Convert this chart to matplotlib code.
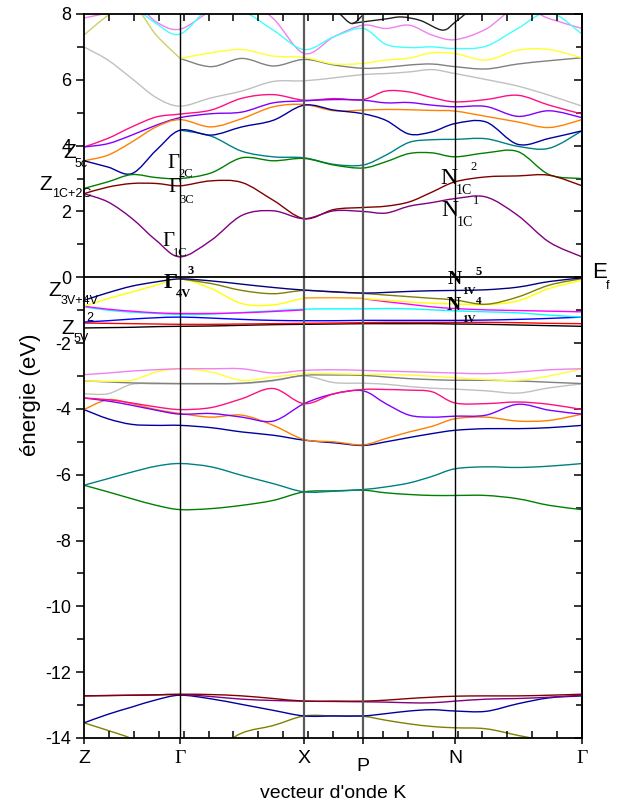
import numpy as np
import matplotlib
matplotlib.use("Agg")
import matplotlib.pyplot as plt
from matplotlib.ticker import MultipleLocator
from matplotlib.path import Path
from matplotlib.patches import PathPatch

plt.rcParams['font.family'] = ['Liberation Sans', 'DejaVu Sans']
plt.rcParams['axes.unicode_minus'] = False

nan = np.nan

# k-path (fraction of total path length) and high-symmetry points
k = [0.0, 0.048, 0.096, 0.145, 0.193, 0.255, 0.317, 0.380, 0.442, 0.502,
     0.560, 0.606, 0.653, 0.699, 0.745, 0.807, 0.871, 0.934, 1.0]
k_sym = [0.0, 0.193, 0.442, 0.560, 0.745, 1.0]
sym_labels = ['Z', 'Γ', 'X', 'P', 'N', 'Γ']

# conduction bands (eV)
c_purple = [2.54, 2.29, 1.79, 1.12, 0.62, 1.12, 1.88, 2.02, 1.78, 2.02, 2.00, 1.95, 2.16, 2.27, 2.39, 2.44, 1.88, 1.07, 0.62]
c_maroon = [2.54, 2.74, 2.85, 2.85, 2.78, 2.93, 2.88, 2.34, 1.78, 2.06, 2.12, 2.16, 2.29, 2.59, 2.90, 3.05, 3.08, 3.10, 2.78]
c_green = [2.70, 2.90, 3.12, 3.03, 3.00, 3.17, 3.63, 3.54, 3.61, 3.41, 3.32, 3.51, 3.76, 3.78, 3.66, 3.78, 3.82, 3.12, 3.00]
c_blue = [3.54, 3.35, 3.15, 3.86, 4.47, 4.32, 4.57, 4.77, 5.23, 5.08, 4.97, 4.77, 4.35, 4.42, 4.67, 4.72, 4.04, 4.22, 4.45]
c_teal = [nan, nan, nan, nan, 4.47, 4.29, 3.83, 3.66, 3.63, 3.43, 3.41, 3.71, 4.10, 4.18, 4.19, 4.21, 3.98, 3.92, 4.45]
c_orange = [3.54, 3.71, 4.11, 4.57, 4.79, 4.57, 4.82, 5.18, 5.25, 5.06, 5.08, 5.10, 5.09, 5.07, 5.05, 4.89, 4.72, 4.55, 4.79]
c_violet = [3.96, 4.06, 4.32, 4.62, 4.85, 4.97, 5.02, 5.30, 5.36, 5.40, 5.38, 5.30, 5.31, 5.23, 5.18, 5.19, 4.89, 5.06, 4.85]
c_pink = [3.96, 4.22, 4.57, 4.87, 4.96, 5.08, 5.44, 5.55, 5.38, 5.43, 5.40, 5.66, 5.63, 5.46, 5.33, 5.40, 5.53, 5.23, 4.96]
c_lgray = [7.00, 6.60, 6.04, 5.46, 5.20, 5.45, 5.66, 5.95, 5.97, 6.06, 6.16, 6.19, 6.24, 6.31, 6.19, 6.01, 5.81, 5.53, 5.20]
c_khaki = [7.36, 7.95, 8.30, 7.36, 6.65, nan, nan, nan, nan, nan, nan, nan, nan, nan, nan, nan, nan, nan, nan]
c_yellow = [nan, nan, nan, nan, 6.65, 6.82, 6.92, 6.72, 6.68, 6.48, 6.50, 6.60, 6.66, 6.82, 6.80, 6.60, 6.90, 6.92, 6.67]
c_dgray = [nan, nan, nan, nan, 6.65, 6.40, 6.65, 6.42, 6.62, 6.45, 6.35, 6.38, 6.45, 6.48, 6.40, 6.33, 6.48, 6.58, 6.67]
c_cyan = [nan, nan, 8.30, 7.71, 7.39, 8.20, 8.10, 7.51, 6.92, 7.31, 7.56, 7.08, 6.98, 7.00, 6.95, 7.02, 7.56, 8.05, 7.39]
c_lviolet = [7.88, 8.05, 8.40, 7.76, 7.54, 8.10, 8.50, 7.86, 6.80, 7.31, 7.66, 7.56, 7.66, 7.36, 7.22, 7.54, 8.20, 7.86, 7.56]

k_black_a = [0.514, 0.538, 0.560]
c_black_a = [8.00, 7.71, 7.97]
k_black_b = [0.538, 0.560, 0.606, 0.638, 0.676, 0.720, 0.745, 0.767]
c_black_b = [7.71, 7.76, 7.85, 7.91, 7.80, 7.51, 7.75, 8.02]

# upper valence bands
v_navy = [-0.70, -0.47, -0.27, -0.14, -0.05, -0.11, -0.21, -0.31, -0.39, -0.44, -0.48, -0.46, -0.43, -0.41, -0.40, -0.38, -0.30, -0.13, -0.02]
v_olive = [nan, nan, nan, nan, -0.05, -0.19, -0.40, -0.50, -0.40, -0.45, -0.49, -0.54, -0.59, -0.64, -0.69, -0.82, -0.60, -0.24, -0.04]
v_yellow = [-0.88, -0.65, -0.45, -0.24, -0.05, -0.34, -0.80, -0.84, -0.64, -0.62, -0.65, -0.70, -0.75, -0.79, -0.81, -0.83, -0.72, -0.34, -0.09]
v_orange = [nan, nan, nan, nan, nan, nan, nan, nan, -0.63, -0.62, -0.64, nan, nan, nan, nan, nan, nan, nan, nan]
v_magenta = [-0.88, -0.97, -1.03, -1.08, -1.10, -1.10, -1.08, -1.04, -0.99, nan, -0.65, -0.74, -0.82, -0.90, -0.95, -0.99, -1.01, -1.03, -1.05]
v_cyan = [-0.90, -1.00, -1.06, -1.10, -1.13, -1.12, -1.07, -1.02, -0.97, -0.96, -0.96, -0.95, -0.96, -0.99, -1.02, -1.05, -1.08, -1.15, -1.21]
v_blue = [-1.36, -1.32, -1.27, -1.23, -1.21, -1.24, -1.28, -1.31, -1.32, -1.32, -1.31, -1.31, -1.31, -1.31, -1.31, -1.30, -1.28, -1.25, -1.21]
v_red = [-1.39, -1.40, -1.41, -1.42, -1.43, -1.43, -1.42, -1.41, -1.40, -1.39, -1.38, -1.37, -1.37, -1.37, -1.37, -1.37, -1.38, -1.40, -1.41]
v_black = [-1.54, -1.53, -1.52, -1.50, -1.49, -1.48, -1.46, -1.44, -1.43, -1.42, -1.41, -1.41, -1.41, -1.41, -1.42, -1.43, -1.45, -1.47, -1.49]

# lower valence bands
v_lviolet = [-2.96, -2.91, -2.85, -2.81, -2.78, -2.78, -2.78, -2.91, -2.83, -2.81, -2.83, -2.85, -2.87, -2.89, -2.91, -2.93, -2.88, -2.81, -2.78]
v_yellow2 = [-3.15, -3.16, -3.13, -2.88, -2.78, -2.88, -3.13, -3.03, -2.93, -2.93, -2.95, -2.95, -2.97, -3.01, -3.05, -3.11, -3.13, -3.00, -2.78]
v_dgray = [-3.15, -3.18, -3.21, -3.22, -3.23, -3.23, -3.22, -3.13, -2.98, -2.97, -2.98, -3.03, -3.08, -3.11, -3.13, -3.13, -3.15, -3.19, -3.23]
v_lgray = [-3.54, -3.54, -3.25, -3.24, -3.24, -3.24, -3.23, -3.15, -3.00, -3.20, -3.22, -3.25, -3.32, -3.37, -3.40, -3.45, -3.52, -3.36, -3.24]
v_pink = [-3.67, -3.72, -3.82, -3.94, -4.02, -3.96, -3.69, -3.38, -3.84, -3.54, -3.41, -3.41, -3.43, -3.48, -3.82, -3.84, -3.79, -3.86, -4.02]
v_violet = [-3.67, -3.76, -3.89, -4.04, -4.16, -4.14, -4.25, -4.37, -3.84, -3.54, -3.45, -3.84, -4.19, -4.25, -4.22, -4.19, -3.86, -4.04, -4.16]
v_orange2 = [-4.02, -3.72, -3.84, -4.02, -4.14, -4.25, -4.19, -4.50, -4.93, -5.00, -5.09, -4.90, -4.70, -4.53, -4.30, -4.25, -4.37, -4.35, -4.16]
v_navy2 = [-4.02, -4.30, -4.47, -4.50, -4.50, -4.57, -4.70, -4.80, -4.95, -5.03, -5.11, -5.00, -4.87, -4.75, -4.65, -4.60, -4.60, -4.57, -4.50]
v_teal = [-6.32, -6.12, -5.92, -5.74, -5.66, -5.76, -6.02, -6.27, -6.52, -6.50, -6.45, -6.37, -6.25, -6.05, -5.82, -5.76, -5.78, -5.74, -5.66]
v_green = [-6.32, -6.52, -6.73, -6.93, -7.06, -7.03, -6.93, -6.78, -6.52, -6.49, -6.47, -6.55, -6.60, -6.63, -6.63, -6.63, -6.73, -6.93, -7.06]

# semi-core bands
d_maroon = [-12.72, -12.71, -12.70, -12.69, -12.67, -12.68, -12.72, -12.80, -12.88, -12.88, -12.88, -12.85, -12.80, -12.76, -12.73, -12.72, -12.72, -12.70, -12.67]
d_purple = [-12.72, -12.71, -12.70, -12.69, -12.68, -12.74, -12.82, -12.86, -12.88, -12.89, -12.90, -12.91, -12.93, -12.93, -12.88, -12.82, -12.80, -12.76, -12.70]
d_navy = [-13.54, -13.28, -13.06, -12.84, -12.70, -12.81, -12.98, -13.16, -13.33, -13.33, -13.33, -13.26, -13.18, -13.14, -13.18, -13.19, -12.96, -12.78, -12.72]
d_olive = [-13.54, -13.77, -14.02, -14.40, -14.60, -14.40, -13.85, -13.62, -13.33, -13.33, -13.34, -13.46, -13.57, -13.65, -13.69, -13.72, -13.92, -14.12, -14.50]

bands = [
    (c_khaki, '#cfcf6a'), (c_lviolet, '#f080f0'), (c_cyan, '#40ffff'),
    (c_dgray, '#808080'), (c_yellow, '#ffff30'), (c_lgray, '#c0c0c0'),
    (c_pink, '#ff1080'), (c_violet, '#8000ff'), (c_orange, '#ff8000'),
    (c_teal, '#008080'), (c_blue, '#0000a0'), (c_green, '#008000'),
    (c_maroon, '#800000'), (c_purple, '#800080'),
    (v_black, '#000000'), (v_red, '#ff0000'), (v_blue, '#0000ff'),
    (v_cyan, '#00ffff'), (v_magenta, '#ff00ff'), (v_yellow, '#ffff00'),
    (v_orange, '#ff9a40'), (v_olive, '#808000'), (v_navy, '#000080'),
    (v_lgray, '#c0c0c0'), (v_dgray, '#808080'), (v_yellow2, '#ffff30'),
    (v_lviolet, '#f080f0'), (v_navy2, '#0000a0'), (v_orange2, '#ff8000'),
    (v_violet, '#8000ff'), (v_pink, '#ff1080'), (v_green, '#008000'),
    (v_teal, '#008080'),
    (d_olive, '#808000'), (d_navy, '#0000a0'), (d_purple, '#800080'),
    (d_maroon, '#800000'),
]


def band_path(xs, ys):
    # Catmull-Rom style Bezier path through the points, split at gaps
    xs = np.asarray(xs, float)
    ys = np.asarray(ys, float)
    verts, codes = [], []
    ok = np.isfinite(ys)
    i = 0
    while i < len(ys):
        if not ok[i]:
            i += 1
            continue
        j = i
        while j + 1 < len(ys) and ok[j + 1]:
            j += 1
        px_, py_ = xs[i:j + 1], ys[i:j + 1]
        n = len(px_)
        if n >= 2:
            verts.append((px_[0], py_[0]))
            codes.append(Path.MOVETO)
            for s in range(n - 1):
                a = max(s - 1, 0)
                b = min(s + 2, n - 1)
                c1 = (px_[s] + (px_[s + 1] - px_[a]) / 6, py_[s] + (py_[s + 1] - py_[a]) / 6)
                c2 = (px_[s + 1] - (px_[b] - px_[s]) / 6, py_[s + 1] - (py_[b] - py_[s]) / 6)
                verts += [c1, c2, (px_[s + 1], py_[s + 1])]
                codes += [Path.CURVE4] * 3
        i = j + 1
    return Path(verts, codes)


W, H = 625, 807
fig = plt.figure(figsize=(W / 100, H / 100), dpi=100)
ax = fig.add_axes([84 / W, 1 - 738 / H, 498 / W, 724 / H])

for vals, col in bands:
    ax.add_patch(PathPatch(band_path(k, vals), fill=False, edgecolor=col, lw=1.0))
ax.add_patch(PathPatch(band_path(k_black_a, c_black_a), fill=False, edgecolor='#202020', lw=1.0))
ax.add_patch(PathPatch(band_path(k_black_b, c_black_b), fill=False, edgecolor='#202020', lw=1.0))

# high-symmetry verticals and Fermi level
for ks, col, lw in zip(k_sym[1:-1], ['black', '#5a5a5a', '#5a5a5a', 'black'], [1.0, 1.6, 1.6, 1.0]):
    ax.axvline(ks, color=col, lw=lw, zorder=1)
ax.axhline(0, color='black', lw=1.3, zorder=3)

ax.set_xlim(0, 1)
ax.set_ylim(-14, 8)
for s in ax.spines.values():
    s.set_linewidth(1.3)

ax.set_yticks(np.arange(-14, 9, 2))
ax.yaxis.set_minor_locator(MultipleLocator(1))
ax.tick_params(axis='y', which='both', direction='out', right=False, labelsize=13, pad=3, width=1.1)
ax.tick_params(axis='y', which='major', length=6)
ax.tick_params(axis='y', which='minor', length=5)
right = ax.secondary_yaxis('right')
right.set_yticks(np.arange(-14, 9, 2))
right.yaxis.set_minor_locator(MultipleLocator(1))
right.tick_params(which='both', direction='in', labelright=False, width=1.1)
right.tick_params(which='major', length=6)
right.tick_params(which='minor', length=4)
right.spines['right'].set_linewidth(1.3)

ax.set_xticks(k_sym)
ax.set_xticklabels([])
ax.set_xticks(np.arange(0.05, 1.0, 0.05), minor=True)
ax.tick_params(axis='x', which='major', direction='out', length=4, width=1.1, top=False)
ax.tick_params(axis='x', which='minor', direction='in', length=5, width=1.1, top=True, bottom=True)

for ks, lbl in zip(k_sym, sym_labels):
    dy = -0.027 if lbl == 'P' else -0.017
    fam = ['Liberation Serif'] if lbl == 'Γ' else ['Liberation Sans']
    ax.text(ks, dy, lbl, transform=ax.get_xaxis_transform(), ha='center', va='top',
            fontsize=14, family=fam)

ax.set_ylabel('énergie (eV)', fontsize=16, va='center')
ax.yaxis.set_label_coords(-0.108, 0.474)
ax.set_xlabel('vecteur d\'onde K', fontsize=14, va='center')
ax.xaxis.set_label_coords(0.5, -0.076)


def px(x, y):
    return x / W, 1 - y / H


def sym(x, y, main, sub=None, sup=None, serif=False, bold=False, size=15,
        sub_at=None, sup_at=None, sub_size=9, sup_size=9):
    fam = ['Liberation Serif'] if serif else ['Liberation Sans']
    wt = 'bold' if bold else 'normal'
    fig.text(*px(x, y), main, ha='center', va='center', fontsize=size, family=fam, weight=wt)
    if sub:
        fig.text(*px(*sub_at), sub, ha='left', va='center', fontsize=sub_size, family=fam, weight=wt)
    if sup:
        fig.text(*px(*sup_at), sup, ha='left', va='center', fontsize=sup_size, family=fam, weight=wt)


sym(70, 152, 'Z', '5c', sub_at=(75, 164))
sym(46, 185, 'Z', '1C+2C', sub_at=(52, 194))
sym(173, 164, 'Γ', '2C', serif=True, size=15, sub_at=(178, 174))
sym(174, 188, 'Γ', '3C', serif=True, size=15, sub_at=(179, 200))
sym(168, 242, 'Γ', '1C', serif=True, size=15, sub_at=(173, 253))
sym(171, 283, 'Γ', '4V', '3', serif=True, bold=True, size=16, sub_at=(176, 294), sup_at=(188, 271))
sym(55, 290, 'Z', '3V+4V', sub_at=(61, 301))
fig.text(*px(90, 318), '2', ha='center', va='center', fontsize=9)
sym(68, 329, 'Z', '5V', sub_at=(74, 339))
sym(449, 178, 'N', '1C', '2', serif=True, size=17, sub_at=(456, 190), sup_at=(470, 167), sub_size=10)
sym(450, 210, 'N', '1C', '1', serif=True, size=17, sub_at=(457, 222), sup_at=(473, 201), sub_size=10)
sym(455, 280, 'N', '1V', '5', serif=True, bold=True, size=14, sub_at=(462, 291), sup_at=(475, 272), sub_size=8)
sym(454, 306, 'N', '1V', '4', serif=True, bold=True, size=14, sub_at=(462, 319), sup_at=(476, 301), sub_size=8, sup_size=8)
sym(600, 272, 'E', 'f', size=16, sub_at=(606, 286))

fig.savefig('out.png', dpi=100)
